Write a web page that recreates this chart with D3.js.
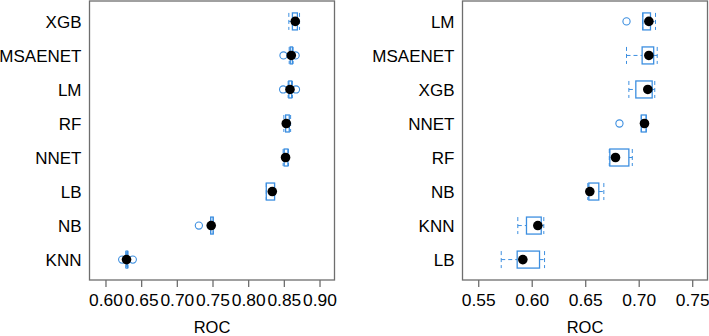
<!DOCTYPE html>
<html lang="en">
<head>
    <meta charset="UTF-8">
    <title>ROC box plots</title>
    <style>
        body { margin: 0; background: #fff; }
        text { font-family: "Liberation Sans", Arial, sans-serif; fill: #000; }
    </style>
</head>
<body>

<script src="https://d3js.org/d3.v7.min.js"></script>

<div id="my_dataviz"></div>

<script>
    // left panel
    const leftModels = ["XGB", "MSAENET", "LM", "RF", "NNET", "LB", "NB", "KNN"];
    const leftMin = [0.857, 0.8575, 0.856, 0.850, 0.849, 0.8254, 0.7473, 0.6285];
    const leftQ1  = [0.862, 0.859, 0.857, 0.8525, 0.8505, 0.8254, 0.7475, 0.629];
    const leftMed = [0.866, 0.8604, 0.8586, 0.8534, 0.8524, 0.8338, 0.7482, 0.6295];
    const leftQ3  = [0.869, 0.862, 0.861, 0.8576, 0.8557, 0.837, 0.751, 0.631];
    const leftMax = [0.872, 0.863, 0.862, 0.8595, 0.8565, 0.837, 0.751, 0.6315];
    const leftOut = [[], [0.8495, 0.8665], [0.849, 0.867], [], [], [], [0.7309], [0.6234, 0.6383]];
    const leftTicks = [0.60, 0.65, 0.70, 0.75, 0.80, 0.85, 0.90];

    // right panel
    const rightModels = ["LM", "MSAENET", "XGB", "NNET", "RF", "NB", "KNN", "LB"];
    const rightMin = [0.7038, 0.6886, 0.6908, 0.7024, 0.6725, 0.6524, 0.587, 0.5715];
    const rightQ1  = [0.7038, 0.7032, 0.6973, 0.7024, 0.673, 0.6534, 0.5951, 0.5864];
    const rightMed = [0.7095, 0.7095, 0.7085, 0.7054, 0.6783, 0.6543, 0.6057, 0.5917];
    const rightQ3  = [0.711, 0.714, 0.7126, 0.707, 0.6908, 0.6627, 0.6089, 0.6073];
    const rightMax = [0.7157, 0.7173, 0.715, 0.707, 0.694, 0.6674, 0.6113, 0.612];
    const rightOut = [[0.6886], [], [], [0.682], [], [], [], []];
    const rightTicks = [0.55, 0.60, 0.65, 0.70, 0.75];

    const width = 709, height = 336;
    const blue = "#3d8fe0";
    const frame = "#6e6e6e";

    const svg = d3.select("#my_dataviz")
      .append("svg")
        .attr("width", width)
        .attr("height", height);

    function drawPanel(opt) {
        const g = svg.append("g");

        const x = d3.scaleLinear()
          .domain(opt.domain)
          .range([opt.left, opt.right]);

        const y = d3.scalePoint()
          .domain(opt.models)
          .range([1, 280])
          .padding(0.6);

        const boxH = 17;

        // frame
        g.append("rect")
          .attr("x", opt.left).attr("y", 1)
          .attr("width", opt.right - opt.left).attr("height", 279)
          .attr("fill", "none").attr("stroke", frame).attr("stroke-width", 1.3);

        // bottom axis
        const axis = g.append("g")
          .attr("transform", "translate(0,280)")
          .call(d3.axisBottom(x).tickValues(opt.ticks).tickFormat(d3.format(".2f")).tickSize(7).tickPadding(7));
        axis.select(".domain").remove();
        axis.selectAll("line").attr("stroke", frame).attr("stroke-width", 1.3);
        axis.selectAll("text").style("font-size", "17.4px").style("font-family", "Liberation Sans, Arial, sans-serif").attr("fill", "#000");

        g.append("text")
          .attr("x", (opt.left + opt.right) / 2)
          .attr("y", 333)
          .attr("text-anchor", "middle")
          .style("font-size", "16.5px")
          .text("ROC");

        // category labels
        g.selectAll(".lab")
          .data(opt.models)
          .join("text")
            .attr("x", opt.left - 8)
            .attr("y", d => y(d))
            .attr("dy", "0.36em")
            .attr("text-anchor", "end")
            .style("font-size", "17px")
            .text(d => d);

        opt.models.forEach(function(m, i) {
            const cy = y(m);
            const row = g.append("g");
            const dash = "4,3";
            // whiskers
            row.append("line")
              .attr("x1", x(opt.min[i])).attr("x2", x(opt.q1[i]))
              .attr("y1", cy).attr("y2", cy)
              .attr("stroke", blue).attr("stroke-dasharray", dash);
            row.append("line")
              .attr("x1", x(opt.q3[i])).attr("x2", x(opt.max[i]))
              .attr("y1", cy).attr("y2", cy)
              .attr("stroke", blue).attr("stroke-dasharray", dash);
            [opt.min[i], opt.max[i]].forEach(function(v) {
                row.append("line")
                  .attr("x1", x(v)).attr("x2", x(v))
                  .attr("y1", cy - boxH / 2).attr("y2", cy + boxH / 2)
                  .attr("stroke", blue).attr("stroke-dasharray", dash);
            });
            // box
            row.append("rect")
              .attr("x", x(opt.q1[i]))
              .attr("y", cy - boxH / 2)
              .attr("width", Math.max(x(opt.q3[i]) - x(opt.q1[i]), 0.5))
              .attr("height", boxH)
              .attr("fill", "none").attr("stroke", blue).attr("stroke-width", 1.3);
            // outliers
            opt.out[i].forEach(function(v) {
                row.append("circle")
                  .attr("cx", x(v)).attr("cy", cy).attr("r", 3.6)
                  .attr("fill", "none").attr("stroke", blue).attr("stroke-width", 1.1);
            });
            // median dot
            row.append("circle")
              .attr("cx", x(opt.med[i])).attr("cy", cy).attr("r", 4.8)
              .attr("fill", "#000");
        });
    }

    drawPanel({
        models: leftModels, min: leftMin, q1: leftQ1, med: leftMed, q3: leftQ3, max: leftMax, out: leftOut,
        ticks: leftTicks, domain: [0.5776, 0.921], left: 89.5, right: 334.5
    });

    drawPanel({
        models: rightModels, min: rightMin, q1: rightQ1, med: rightMed, q3: rightQ3, max: rightMax, out: rightOut,
        ticks: rightTicks, domain: [0.5353, 0.7643], left: 462.5, right: 707.5
    });
</script>

</body>
</html>
